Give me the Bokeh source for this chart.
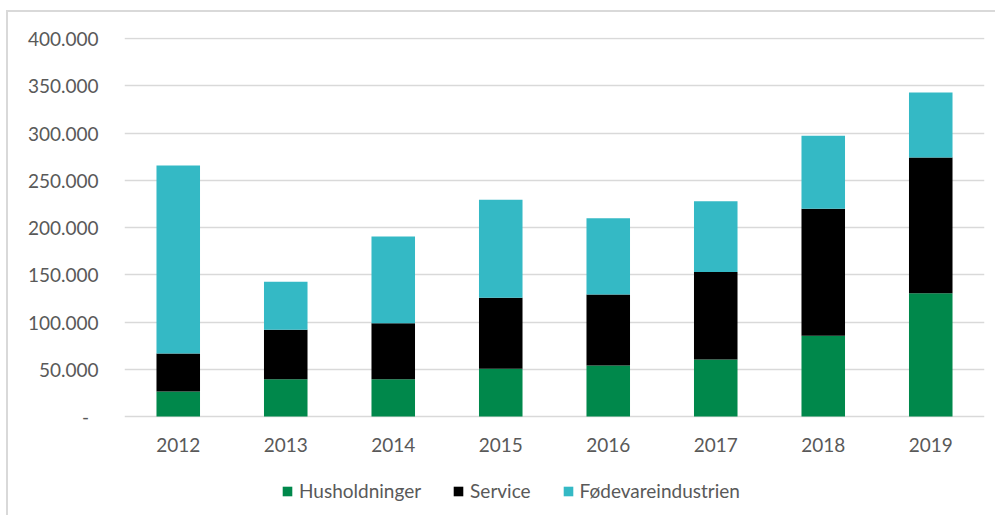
from bokeh.plotting import figure
from bokeh.models import ColumnDataSource, FactorRange, Range1d, Legend, LegendItem, FixedTicker
from bokeh.core.properties import value
from bokeh.embed import file_html
from bokeh.resources import INLINE

years = ["2012", "2013", "2014", "2015", "2016", "2017", "2018", "2019"]
husholdninger = [26500, 39500, 39500, 50400, 54000, 60300, 85400, 130500]
service = [40200, 52200, 59300, 75200, 75100, 92700, 134400, 143500]
foedevare = [198900, 50800, 91700, 103700, 80800, 74800, 77200, 68900]
series_names = ["Husholdninger", "Service", "Fødevareindustrien"]
colors = ["#00884B", "#000000", "#34B9C5"]
y_ticks = [0, 50000, 100000, 150000, 200000, 250000, 300000, 350000, 400000]
y_tick_labels = ["-\u2002", "50.000", "100.000", "150.000", "200.000", "250.000", "300.000", "350.000", "400.000"]

source = ColumnDataSource(data=dict(
    year=years,
    Husholdninger=husholdninger,
    Service=service,
    Fødevareindustrien=foedevare,
))

FONT = "Lato"
TXT = "#595959"

# frame spans from the top gridline down to the canvas bottom; the area below 0
# holds the category labels and the legend
PX_PER_UNIT = 378 / 400000
Y_END = 400000 + 1 / PX_PER_UNIT
FRAME_H = 480
Y_START = Y_END - FRAME_H / PX_PER_UNIT
LABEL_Y = -28 / PX_PER_UNIT

p = figure(
    x_range=FactorRange(*years, range_padding=0),
    y_range=Range1d(Y_START, Y_END),
    width=989, height=25 + FRAME_H,
    output_backend="svg", toolbar_location=None,
    min_border_left=116, min_border_right=13, min_border_top=25, min_border_bottom=0,
)
p.styles = {"border-left": "2px solid #d9d9d9", "border-top": "2px solid #d9d9d9",
            "margin-top": "10px", "margin-left": "6px"}

renderers = p.vbar_stack(series_names, x="year", width=0.405, color=colors,
                         line_color=None, source=source)

p.text(x=years, y=[LABEL_Y] * len(years), text=years,
       text_font=value(FONT), text_font_size="19px", text_color=TXT,
       text_align="center", text_baseline="middle")

p.outline_line_color = None
p.background_fill_color = "white"
p.border_fill_color = "white"

p.xgrid.grid_line_color = None
p.ygrid.grid_line_color = "#d9d9d9"
p.ygrid.grid_line_width = 1.3
p.ygrid.ticker = FixedTicker(ticks=y_ticks)

p.yaxis.ticker = FixedTicker(ticks=y_ticks)
p.yaxis.major_label_overrides = {t: l for t, l in zip(y_ticks, y_tick_labels)}
p.yaxis.axis_line_color = None
p.yaxis.major_tick_line_color = None
p.yaxis.minor_tick_line_color = None
p.yaxis.major_label_standoff = 20
p.yaxis.major_label_text_font = FONT
p.yaxis.major_label_text_font_size = "19px"
p.yaxis.major_label_text_color = TXT

p.xaxis.visible = False

legend = Legend(
    items=[LegendItem(label=n, renderers=[r]) for n, r in zip(series_names, renderers)],
    orientation="horizontal",
    location=(157, 15),
    glyph_width=12, glyph_height=12,
    label_standoff=6,
    spacing=31,
    padding=0, margin=0,
    border_line_color=None,
    background_fill_alpha=0,
    label_text_font=FONT,
    label_text_font_size="19px",
    label_text_color=TXT,
)
p.add_layout(legend, "center")

open("out.html", "w").write(file_html(p, INLINE))
